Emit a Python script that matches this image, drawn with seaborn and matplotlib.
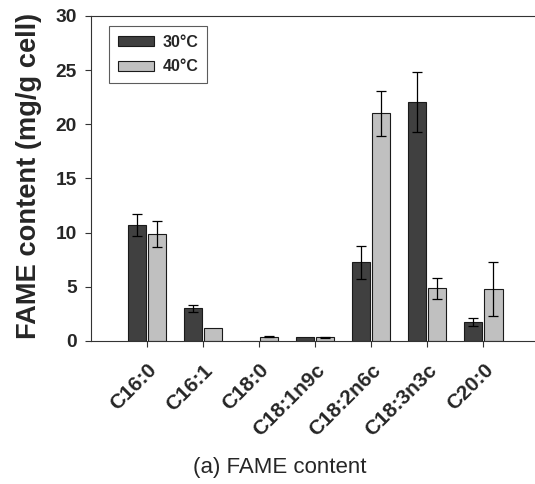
import numpy as np
import pandas as pd
import matplotlib
matplotlib.use("Agg")
import matplotlib.pyplot as plt
import seaborn as sns

# data
fames = ["C16:0", "C16:1", "C18:0", "C18:1n9c", "C18:2n6c", "C18:3n3c", "C20:0"]
temps = ["30°C", "40°C"]
mean_30 = [10.7, 3.0, 0.0, 0.34, 7.25, 22.05, 1.75]
mean_40 = [9.85, 1.22, 0.4, 0.35, 21.0, 4.85, 4.8]
err_30 = [1.05, 0.35, 0.0, 0.0, 1.5, 2.8, 0.35]
err_40 = [1.2, 0.0, 0.06, 0.06, 2.1, 0.95, 2.45]

sns.set_style("ticks")
plt.rcParams["font.family"] = ["Liberation Sans", "DejaVu Sans"]

df = pd.DataFrame({
    "fame": fames * 2,
    "temp": [temps[0]] * len(fames) + [temps[1]] * len(fames),
    "value": mean_30 + mean_40,
    "err": err_30 + err_40,
})

fig = plt.figure(figsize=(5.35, 4.84), dpi=100)
ax = fig.add_axes([0.1695, 0.2955, 0.8305, 0.6715])

sns.barplot(data=df, x="fame", y="value", hue="temp", order=fames, hue_order=temps,
            palette=["#404040", "#c0c0c0"], width=0.72, gap=0.1, errorbar=None,
            edgecolor="#1a1a1a", linewidth=0.8, ax=ax)

# error bars placed on the bar centres
for cont, errs, vals in zip(ax.containers, [err_30, err_40], [mean_30, mean_40]):
    for bar, e, v in zip(cont, errs, vals):
        if e > 0:
            xc = bar.get_x() + bar.get_width() / 2
            ax.errorbar(xc, v, yerr=e, fmt="none", ecolor="black",
                        elinewidth=0.9, capsize=3.6, capthick=0.9)

ax.set_xlim(-1, 6.92)
ax.set_ylim(0, 30)
ax.set_yticks([0, 5, 10, 15, 20, 25, 30])
ax.set_xlabel("")
ax.set_ylabel("FAME content (mg/g cell)", fontsize=19.6, fontweight="bold")
ax.yaxis.set_label_coords(-0.110, 0.508)

ax.tick_params(axis="both", direction="out", length=4, width=0.8, color="#333333")
ax.tick_params(axis="y", labelsize=13.8, pad=6)
ax.tick_params(axis="x", labelsize=15, pad=10)
for lab in ax.get_yticklabels():
    lab.set_fontweight("bold")
for lab in ax.get_xticklabels():
    lab.set_fontweight("bold")
    lab.set_rotation(45)
    lab.set_ha("right")
    lab.set_rotation_mode("anchor")

for side in ["left", "top", "bottom"]:
    ax.spines[side].set_visible(True)
    ax.spines[side].set_color("#333333")
    ax.spines[side].set_linewidth(0.8)
ax.spines["right"].set_visible(False)

leg = ax.legend(loc="upper left", bbox_to_anchor=(0.041, 0.969), borderaxespad=0,
                frameon=True, fancybox=False, shadow=False, handlelength=2.3,
                handleheight=0.6, prop={"weight": "bold", "size": 11.5}, borderpad=0.55,
                labelspacing=0.6, handletextpad=0.5)
leg.get_frame().set_edgecolor("#333333")
leg.get_frame().set_linewidth(0.8)

fig.text(0.522, 0.035, "(a) FAME content", ha="center", va="center", fontsize=16)

fig.savefig("out.png", dpi=100)
